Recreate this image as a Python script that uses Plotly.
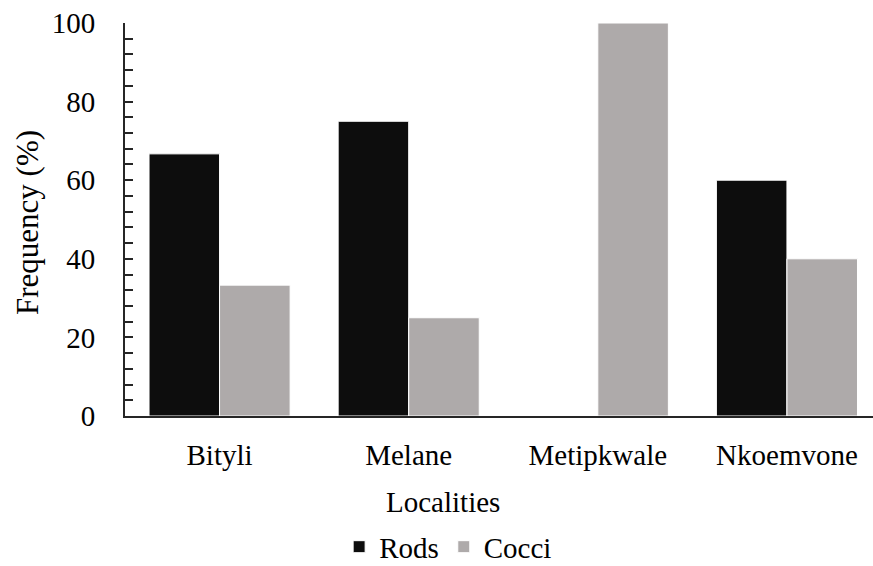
import plotly.graph_objects as go

localities = ["Bityli", "Melane", "Metipkwale", "Nkoemvone"]
rods = [66.7, 75.0, 0.0, 60.0]
cocci = [33.3, 25.0, 100.0, 40.0]
y_ticks = [0, 20, 40, 60, 80, 100]

FONT = "Liberation Serif, Times New Roman, serif"
FS = 29
W, H = 873, 566
L, R, T, B = 125, 0, 23, 150

fig = go.Figure()
fig.add_trace(go.Bar(name="Rods", x=localities, y=rods,
                     marker=dict(color="#0d0d0d", line=dict(color="white", width=1))))
fig.add_trace(go.Bar(name="Cocci", x=localities, y=cocci,
                     marker=dict(color="#aeaaaa", line=dict(color="white", width=1))))

fig.update_layout(
    width=W, height=H,
    margin=dict(l=L, r=R, t=T, b=B, autoexpand=False),
    paper_bgcolor="white", plot_bgcolor="white",
    barmode="group", bargap=0.254, bargroupgap=0.0,
    font=dict(family=FONT, size=FS, color="#000000"),
    showlegend=True,
    legend=dict(orientation="h", x=0.432, xanchor="center", y=-0.268,
                yanchor="top", font=dict(family=FONT, size=FS), itemwidth=30,
                traceorder="normal", tracegroupgap=0),
    xaxis=dict(range=[-0.5, 3.455], showline=True, linecolor="#262626",
               linewidth=2, ticks="", showgrid=False, zeroline=False,
               tickfont=dict(family=FONT, size=FS), ticklabelstandoff=12),
    yaxis=dict(range=[0, 100], tickvals=y_ticks, showline=True,
               linecolor="#262626", linewidth=2, ticks="inside", ticklen=8,
               tickcolor="#262626", tickwidth=1.5, showgrid=False,
               zeroline=False, tickfont=dict(family=FONT, size=FS),
               ticklabelstandoff=22,
               minor=dict(dtick=4, ticks="inside", ticklen=8,
                          tickcolor="#262626", tickwidth=1.5, showgrid=False)),
    annotations=[
        dict(text="Localities", xref="paper", yref="paper",
             x=(443 - L) / (W - L - R), y=-(502 - (H - B)) / (H - T - B),
             xanchor="center", yanchor="middle", showarrow=False,
             font=dict(family=FONT, size=FS)),
        dict(text="Frequency (%)", xref="paper", yref="paper",
             x=-(L - 27) / (W - L - R), y=(H - B - 223) / (H - T - B),
             textangle=-90, xanchor="center", yanchor="middle",
             showarrow=False, font=dict(family=FONT, size=31)),
    ],
)

fig.write_html("out.html", config={"displayModeBar": False},
               post_script="document.body.style.margin='0';")
